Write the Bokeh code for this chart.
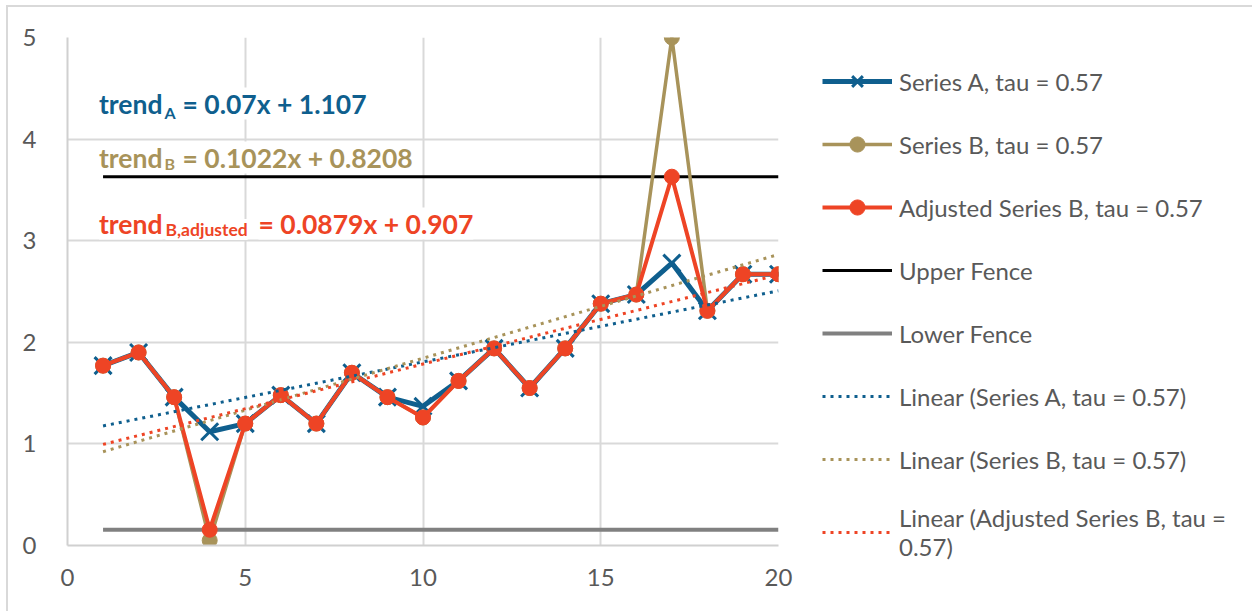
from bokeh.plotting import figure
from bokeh.models import Legend, LegendItem, Label, FixedTicker, Range1d
from bokeh.embed import file_html
from bokeh.resources import INLINE

# ---------------- data ----------------
x_vals = list(range(1, 21))
series_a = [1.77, 1.90, 1.46, 1.12, 1.20, 1.48, 1.20, 1.70, 1.46, 1.37,
            1.62, 1.94, 1.55, 1.94, 2.38, 2.47, 2.78, 2.31, 2.67, 2.67]
series_b = [1.77, 1.90, 1.46, 0.05, 1.20, 1.48, 1.20, 1.70, 1.46, 1.26,
            1.62, 1.94, 1.55, 1.94, 2.38, 2.47, 5.00, 2.31, 2.67, 2.67]
series_b_adj = [1.77, 1.90, 1.46, 0.155, 1.20, 1.48, 1.20, 1.70, 1.46, 1.26,
                1.62, 1.94, 1.55, 1.94, 2.38, 2.47, 3.63, 2.31, 2.67, 2.67]
upper_fence = 3.63
lower_fence = 0.155
fence_x = [1, 20]
trend_slopes = [0.07, 0.1022, 0.0879]
trend_intercepts = [1.107, 0.8208, 0.907]
x_ticks = [0, 5, 10, 15, 20]
y_ticks = [0, 1, 2, 3, 4, 5]

legend_labels = ["Series A, tau = 0.57", "Series B, tau = 0.57",
                 "Adjusted Series B, tau = 0.57", "Upper Fence", "Lower Fence",
                 "Linear (Series A, tau = 0.57)", "Linear (Series B, tau = 0.57)",
                 "Linear (Adjusted Series B, tau =\n0.57)"]

# ---------------- style ----------------
BLUE = "#0F5F8E"
TAN = "#A8935A"
RED = "#EE4425"
GRAY_TXT = "#595959"
FONT = "Lato"

# outer chart border (left/top) drawn by CSS on the figure element
OX, OY = 8, 7
FL, FT, FW, FH = 67, 37, 711, 508   # frame left/top/width/height in page px

p = figure(frame_width=FW, frame_height=FH,
           min_border_left=FL - OX, min_border_top=FT - OY,
           min_border_right=1252 - FL - FW, min_border_bottom=611 - FT - FH,
           x_range=Range1d(0, 20), y_range=Range1d(0, 5),
           output_backend="svg", toolbar_location=None)
p.styles = {"margin-left": "6px", "margin-top": "5px",
            "border-left": "2px solid #D9D9D9", "border-top": "2px solid #D9D9D9"}
p.outline_line_color = None
p.background_fill_color = "white"
p.border_fill_color = "white"

for ax in (p.xaxis[0], p.yaxis[0]):
    ax.major_tick_line_color = None
    ax.minor_tick_line_color = None
    ax.axis_line_color = "#D0D0D0"
    ax.axis_line_width = 2
    ax.major_label_text_font = FONT
    ax.major_label_text_font_size = "24px"
    ax.major_label_text_color = GRAY_TXT
p.xaxis.ticker = FixedTicker(ticks=x_ticks)
p.yaxis.ticker = FixedTicker(ticks=y_ticks)
p.xaxis.major_label_standoff = 17
p.yaxis.major_label_standoff = 25
p.xgrid.ticker = FixedTicker(ticks=x_ticks)
p.ygrid.ticker = FixedTicker(ticks=y_ticks)
p.grid.grid_line_color = "#D9D9D9"
p.grid.grid_line_width = 2

# fences
r_up = p.line(fence_x, [upper_fence] * 2, line_color="black", line_width=3)
r_lo = p.line(fence_x, [lower_fence] * 2, line_color="#808080", line_width=4)

# series
ra_l = p.line(x_vals, series_a, line_color=BLUE, line_width=5)
ra_m = p.scatter(x_vals, series_a, marker="x", size=24, line_color=BLUE, line_width=3)
rb_l = p.line(x_vals, series_b, line_color=TAN, line_width=3.5)
rb_m = p.scatter(x_vals, series_b, marker="circle", size=15, fill_color=TAN, line_color=TAN)
rc_l = p.line(x_vals, series_b_adj, line_color=RED, line_width=4)
rc_m = p.scatter(x_vals, series_b_adj, marker="circle", size=15, fill_color=RED, line_color=RED)

# trend lines from displayed coefficients
trend_colors = [BLUE, TAN, RED]
trend_rs = []
for m, b, c in zip(trend_slopes, trend_intercepts, trend_colors):
    xs = [x_vals[0], x_vals[-1]]
    ys = [m * xx + b for xx in xs]
    trend_rs.append(p.line(xs, ys, line_color=c, line_width=3, line_dash="3 5"))

items = [
    LegendItem(label=legend_labels[0], renderers=[ra_l, ra_m]),
    LegendItem(label=legend_labels[1], renderers=[rb_l, rb_m]),
    LegendItem(label=legend_labels[2], renderers=[rc_l, rc_m]),
    LegendItem(label=legend_labels[3], renderers=[r_up]),
    LegendItem(label=legend_labels[4], renderers=[r_lo]),
    LegendItem(label=legend_labels[5], renderers=[trend_rs[0]]),
    LegendItem(label=legend_labels[6], renderers=[trend_rs[1]]),
    LegendItem(label=legend_labels[7], renderers=[trend_rs[2]]),
]
ROW_H, SPACING = 38, 25
leg_h = 7 * ROW_H + 58 + 7 * SPACING
leg_top = 62
legend = Legend(items=items, location=(822 - FL - FW, (FT + FH) - leg_top - leg_h),
                orientation="vertical",
                glyph_width=70, glyph_height=ROW_H, label_height=ROW_H,
                label_standoff=7, spacing=SPACING, padding=0, margin=0,
                label_text_font=FONT, label_text_font_size="24px",
                label_text_color=GRAY_TXT,
                background_fill_alpha=0, border_line_color=None)
p.add_layout(legend, "right")

# positions given in page pixels -> data coords (for text placement only)
def dx(px):
    return (px - FL) / FW * 20

def dy(py):
    return (FT + FH - py) / FH * 5

def lab(px, py, text, color, size, align):
    p.add_layout(Label(x=dx(px), y=dy(py), text=text, text_color=color,
                       text_font=FONT, text_font_style="bold", text_font_size=size,
                       text_align=align, text_baseline="alphabetic",
                       background_fill_color="white", padding=0))

lab(162, 103, "trend", BLUE, "26.5px", "right")
lab(164, 112, "A", BLUE, "16px", "left")
lab(182, 103, "= 0.07x + 1.107", BLUE, "26.5px", "left")

lab(162, 157, "trend", TAN, "26.5px", "right")
lab(164, 163, "B", TAN, "16px", "left")
lab(182, 157, "= 0.1022x + 0.8208", TAN, "26.5px", "left")

lab(162, 223, "trend", RED, "26.5px", "right")
lab(165, 229, "B,adjusted", RED, "17.5px", "left")
lab(258, 223, "= 0.0879x + 0.907", RED, "26.5px", "left")

open("out.html", "w").write(file_html(p, INLINE))
